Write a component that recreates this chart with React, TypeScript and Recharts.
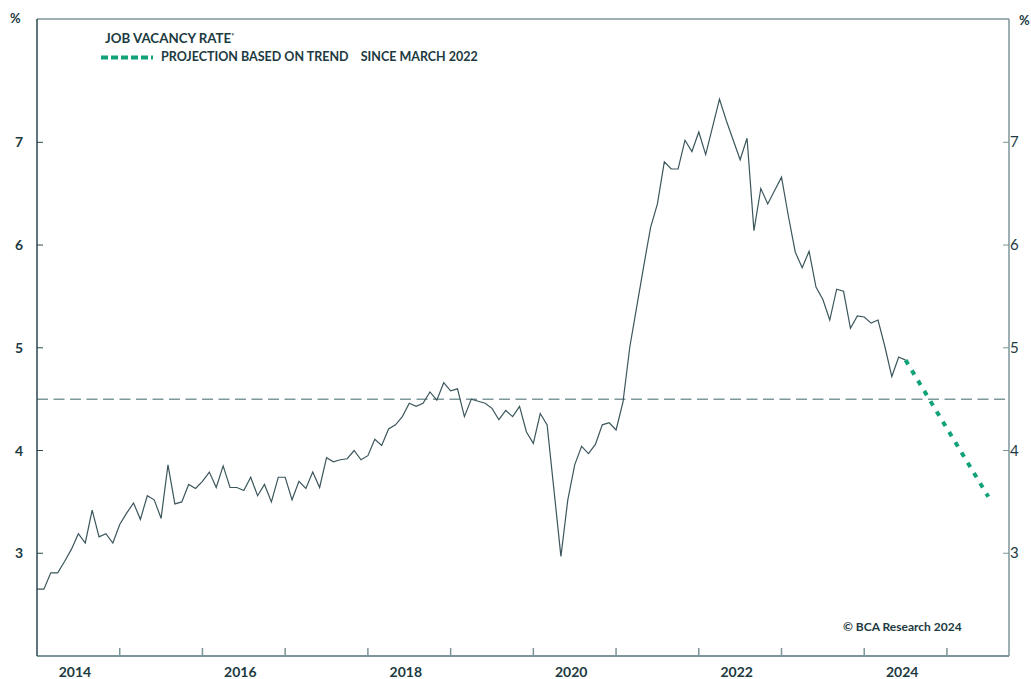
import React from "react";
import { LineChart, Line, XAxis, YAxis, ReferenceLine } from "recharts";

// monthly job vacancy rate, Jan 2014 = month 0
const vacancyRate = [
  2.65, 2.65, 2.81, 2.81, 2.92, 3.04, 3.19, 3.1, 3.42, 3.16, 3.19, 3.1,
  3.28, 3.39, 3.49, 3.33, 3.56, 3.52, 3.34, 3.86, 3.48, 3.5, 3.67, 3.63,
  3.7, 3.79, 3.64, 3.85, 3.64, 3.64, 3.61, 3.74, 3.56, 3.67, 3.5, 3.74,
  3.74, 3.52, 3.7, 3.63, 3.79, 3.64, 3.93, 3.89, 3.91, 3.92, 4.0, 3.91,
  3.95, 4.11, 4.05, 4.21, 4.25, 4.33, 4.46, 4.43, 4.46, 4.57, 4.49, 4.66,
  4.58, 4.6, 4.33, 4.5, 4.48, 4.46, 4.41, 4.3, 4.39, 4.33, 4.43, 4.18,
  4.07, 4.36, 4.25, 3.61, 2.97, 3.52, 3.86, 4.04, 3.97, 4.06, 4.25, 4.27,
  4.2, 4.47, 5.01, 5.4, 5.79, 6.17, 6.4, 6.81, 6.74, 6.74, 7.02, 6.91,
  7.1, 6.88, 7.15, 7.42, 7.21, 7.02, 6.83, 7.04, 6.14, 6.55, 6.4, 6.53,
  6.66, 6.28, 5.93, 5.78, 5.94, 5.59, 5.47, 5.27, 5.57, 5.55, 5.19, 5.31,
  5.3, 5.24, 5.27, 5.01, 4.72, 4.91, 4.88,
];

const projectionMonths = [126, 138];
const projectionValues = [4.88, 3.55];

const yTicks = [3, 4, 5, 6, 7];
const yearTickMonths = [12, 24, 36, 48, 60, 72, 84, 96, 108, 120, 132];
const yearLabelMonths = [5.5, 29.5, 53.5, 77.5, 101.5, 125.5];
const yearLabels = ["2014", "2016", "2018", "2020", "2022", "2024"];
const threshold = 4.5;

const INK = "#1c3a41";
const LINE = "#3b575c";
const AXIS_DARK = "#2b474d";
const AXIS_LIGHT = "#7c9598";
const GREEN = "#12a27a";
const FONT = "Lato, 'Open Sans', sans-serif";

const series = vacancyRate.map((v, i) => ({ t: i, v }));
const projection = projectionMonths.map((t, i) => ({ t, v: projectionValues[i] }));
const xTicks = [...yearTickMonths, ...yearLabelMonths].sort((a, b) => a - b);

function XTick(props: any) {
  const { x, y, payload } = props;
  const idx = yearLabelMonths.indexOf(payload.value);
  if (idx < 0) {
    return <line x1={x} x2={x} y1={y} y2={y - 8} stroke={AXIS_LIGHT} strokeWidth={1.5} />;
  }
  return (
    <text x={x} y={y + 21} textAnchor="middle" fill={INK} fontSize={14} fontWeight={700} fontFamily={FONT}>
      {yearLabels[idx]}
    </text>
  );
}

function LeftTick(props: any) {
  const { x, y, payload } = props;
  return (
    <g>
      <line x1={x} x2={x + 6} y1={y} y2={y} stroke={AXIS_DARK} strokeWidth={1} />
      <text x={x - 14} y={y + 5} textAnchor="end" fill={INK} fontSize={14} fontWeight={700} fontFamily={FONT}>
        {payload.value}
      </text>
    </g>
  );
}

function RightTick(props: any) {
  const { x, y, payload } = props;
  return (
    <g>
      <line x1={x} x2={x - 6} y1={y} y2={y} stroke={AXIS_LIGHT} strokeWidth={1} />
      <text x={x + 1} y={y + 5} textAnchor="start" fill={INK} fontSize={15} fontWeight={400} fontFamily={FONT}>
        {payload.value}
      </text>
    </g>
  );
}

const abs = (style: React.CSSProperties): React.CSSProperties => ({
  position: "absolute",
  fontFamily: FONT,
  color: INK,
  whiteSpace: "nowrap",
  lineHeight: 1,
  ...style,
});

export default function App() {
  return (
    <div style={{ position: "absolute", left: 0, top: 0, width: 1031, height: 679, background: "#fff" }}>
      <LineChart width={1031} height={679} margin={{ top: 19, right: 0, bottom: 0, left: 0 }}>
        <XAxis
          dataKey="t"
          type="number"
          domain={[0, 141]}
          ticks={xTicks}
          interval={0}
          tick={<XTick />}
          tickLine={false}
          tickSize={0}
          tickMargin={0}
          height={23}
          axisLine={{ stroke: AXIS_LIGHT, strokeWidth: 2 }}
          allowDataOverflow
        />
        <YAxis
          yAxisId="left"
          orientation="left"
          type="number"
          domain={[2, 8.2]}
          ticks={yTicks}
          interval={0}
          tick={<LeftTick />}
          tickLine={false}
          tickSize={0}
          tickMargin={0}
          width={37}
          axisLine={{ stroke: AXIS_DARK, strokeWidth: 1.5 }}
          allowDataOverflow
        />
        <YAxis
          yAxisId="right"
          orientation="right"
          type="number"
          domain={[2, 8.2]}
          ticks={yTicks}
          interval={0}
          tick={<RightTick />}
          tickLine={false}
          tickSize={0}
          tickMargin={0}
          width={22}
          axisLine={{ stroke: AXIS_LIGHT, strokeWidth: 1.5 }}
          allowDataOverflow
        />
        <ReferenceLine yAxisId="left" y={8.2} stroke={AXIS_LIGHT} strokeWidth={1.5} ifOverflow="visible" />
        <ReferenceLine
          yAxisId="left"
          y={threshold}
          stroke="#7f989b"
          strokeWidth={1.5}
          strokeDasharray="11 5.5"
        />
        <Line
          yAxisId="left"
          data={series}
          dataKey="v"
          type="linear"
          stroke={LINE}
          strokeWidth={1.2}
          dot={false}
          isAnimationActive={false}
        />
        <Line
          yAxisId="left"
          data={projection}
          dataKey="v"
          type="linear"
          stroke={GREEN}
          strokeWidth={4}
          strokeDasharray="5 7"
          dot={false}
          isAnimationActive={false}
        />
      </LineChart>

      <div style={abs({ left: 10, top: 12, fontSize: 13, fontWeight: 700 })}>%</div>
      <div style={abs({ left: 1019, top: 14, fontSize: 13, fontWeight: 700 })}>%</div>

      <div style={abs({ left: 105, top: 32, fontSize: 13.3, fontWeight: 700 })}>
        JOB VACANCY RATE<sup style={{ fontSize: 7, verticalAlign: 4 }}>*</sup>
      </div>
      <svg style={{ position: "absolute", left: 101, top: 55 }} width={52} height={5}>
        <line x1={0} x2={52} y1={2.5} y2={2.5} stroke={GREEN} strokeWidth={4} strokeDasharray="7 3" />
      </svg>
      <div style={abs({ left: 161, top: 51, fontSize: 12.5, fontWeight: 700 })}>
        PROJECTION BASED ON TREND&nbsp;&nbsp;&nbsp;&nbsp;SINCE MARCH 2022
      </div>

      <div style={abs({ left: 843, top: 621, fontSize: 12, fontWeight: 700 })}>© BCA Research 2024</div>
    </div>
  );
}
